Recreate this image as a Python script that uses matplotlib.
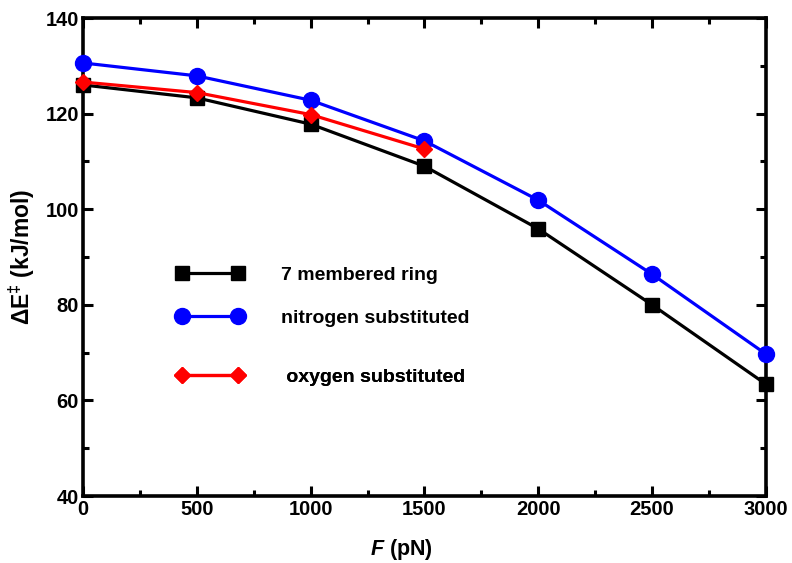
import matplotlib
matplotlib.use("Agg")
import matplotlib.pyplot as plt
from matplotlib.ticker import MultipleLocator

plt.rcParams['font.family'] = ['Liberation Sans', 'DejaVu Sans']
plt.rcParams['font.weight'] = 'bold'
plt.rcParams['mathtext.fontset'] = 'custom'
plt.rcParams['mathtext.rm'] = 'Liberation Sans:bold'
plt.rcParams['mathtext.bf'] = 'Liberation Sans:bold'
plt.rcParams['mathtext.it'] = 'Liberation Sans:italic:bold'
plt.rcParams['mathtext.bfit'] = 'Liberation Sans:italic:bold'

force = [0, 500, 1000, 1500, 2000, 2500, 3000]
ring7 = [126.0, 123.3, 117.8, 109.0, 95.9, 80.0, 63.4]
nitrogen = [130.6, 127.9, 122.8, 114.3, 101.9, 86.4, 69.7]
force_o = [0, 500, 1000, 1500]
oxygen = [126.6, 124.4, 119.8, 112.6]

labels = ["7 membered ring", "nitrogen substituted", " oxygen substituted"]

fig = plt.figure(figsize=(7.92, 5.63), dpi=100)
ax = fig.add_axes([0.1048, 0.119, 0.8622, 0.849])

lw = 2.3
l1, = ax.plot(force, ring7, color='black', marker='s', ms=10, lw=lw, clip_on=False, zorder=3)
l2, = ax.plot(force, nitrogen, color='#0000ff', marker='o', ms=11.5, lw=lw, clip_on=False, zorder=3)
l3, = ax.plot(force_o, oxygen, color='#ff0000', marker='D', ms=8.5, lw=lw, clip_on=False, zorder=4)

ax.set_xlim(0, 3000)
ax.set_ylim(40, 140)
ax.xaxis.set_major_locator(MultipleLocator(500))
ax.xaxis.set_minor_locator(MultipleLocator(250))
ax.yaxis.set_major_locator(MultipleLocator(20))
ax.yaxis.set_minor_locator(MultipleLocator(10))
ax.tick_params(which='both', direction='in', top=True, right=True, width=2.2, labelsize=14.5)
ax.tick_params(which='major', length=7, pad=3)
ax.tick_params(which='minor', length=4)
for lab in ax.get_xticklabels() + ax.get_yticklabels():
    lab.set_fontweight('bold')
for sp in ax.spines.values():
    sp.set_linewidth(2.6)

ax.set_xlabel(r'$\mathbfit{F}$ (pN)', fontsize=15.5, fontweight='bold')
ax.xaxis.set_label_coords(0.467, -0.085)
ax.set_ylabel(r'ΔE$^{‡}$ (kJ/mol)', fontsize=16.5, fontweight='bold', labelpad=6)

rows = [0.4625, 0.372, 0.249]
for h, lab, y in zip([l1, l2, l3], labels, rows):
    leg = ax.legend([h], [lab], loc='center left', bbox_to_anchor=(0.1362, y),
                    frameon=False, numpoints=2, handlelength=3.5, handletextpad=1.9,
                    borderpad=0, borderaxespad=0, prop={'size': 14, 'weight': 'bold'})
    ax.add_artist(leg)

fig.savefig('out.png', dpi=100)
